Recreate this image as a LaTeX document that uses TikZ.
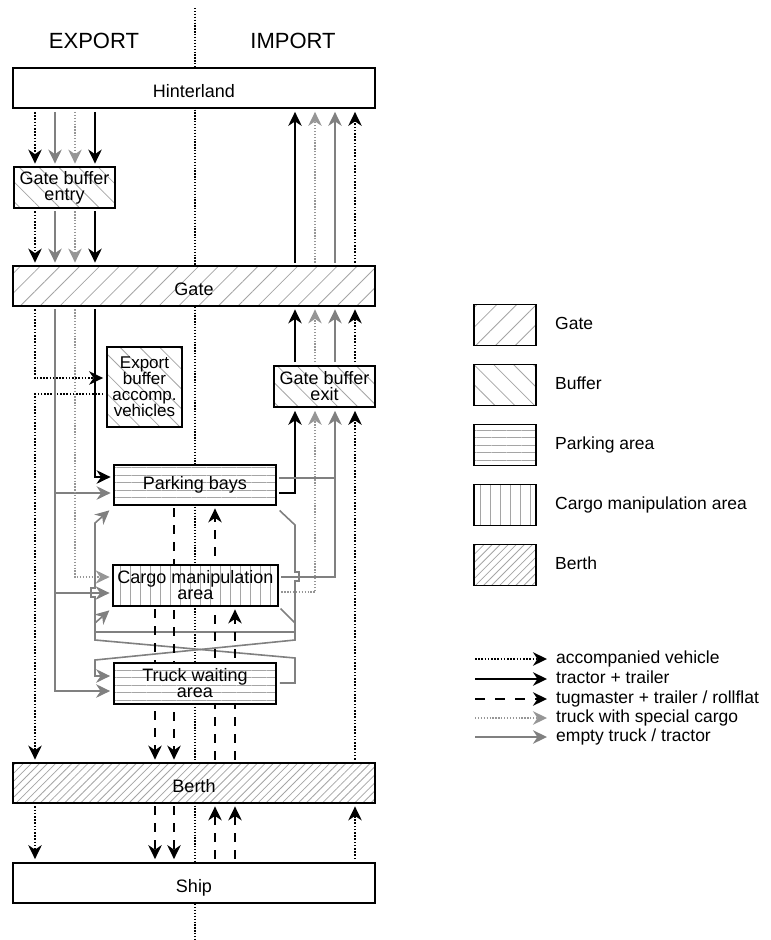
\documentclass[tikz,border=0pt]{standalone}
\usepackage{fontspec}
\setmainfont{Liberation Sans}
\usetikzlibrary{arrows.meta,patterns.meta,calc}
\definecolor{gr}{RGB}{128,128,128}
\definecolor{grd}{RGB}{150,150,150}
\definecolor{hatch}{RGB}{165,165,165}
\pgfdeclarelayer{bg}
\pgfsetlayers{bg,main}
\tikzset{
 tipk/.style={-{Stealth[length=14pt,width=13.5pt,inset=4.5pt]}},
 conn/.style={line width=1.6pt, shorten <=3pt, shorten >=3pt},
 blk/.style={conn, draw=black, tipk},
 blkdot/.style={blk, dash pattern=on 1.6pt off 1.6pt},
 gry/.style={conn, draw=gr, tipk},
 grydot/.style={conn, draw=grd, line width=1.3pt, tipk, dash pattern=on 1.3pt off 1.6pt},
 dsh/.style={blk, dash pattern=on 9pt off 8pt},
 box/.style={draw=black, line width=1.8pt, preaction={fill=white}, inner sep=0pt, align=center, font=\fontsize{18}{16}\selectfont},
 big/.style={box, minimum width=362pt, minimum height=40pt, text height=19pt, text depth=0pt},
 gatepat/.style={box, pattern={Lines[angle=45,distance=14pt,line width=0.8pt]}, pattern color=hatch},
 bufpat/.style={box, pattern={Lines[angle=-45,distance=14pt,line width=0.8pt]}, pattern color=hatch},
 parkpat/.style={box, pattern={Lines[angle=0,distance=7.5pt,line width=0.8pt]}, pattern color=hatch},
 cargopat/.style={box, pattern={Lines[angle=90,distance=10pt,line width=0.8pt]}, pattern color=hatch},
 berthpat/.style={box, pattern={Lines[angle=45,distance=5.7pt,line width=0.8pt]}, pattern color=hatch},
 legtxt/.style={anchor=west, inner sep=0pt, font=\fontsize{17.5}{20}\selectfont, text height=13pt, text depth=4pt},
 head/.style={font=\fontsize{22}{26}\selectfont, inner sep=0pt},
 legline/.style={shorten <=0pt, shorten >=0pt},
}
\begin{document}
\begin{tikzpicture}[x=1pt,y=-1pt]
\useasboundingbox (0,0) rectangle (771,940);

% headers
\node[head] (exp) at (94,41) {EXPORT};
\node[head] (imp) at (293,41) {IMPORT};
\coordinate (ctop) at (195,8);
\coordinate (cbot) at (195,940);

% boxes
\node[big] (hint) at (194,88) {Hinterland};
\node[bufpat, minimum width=101pt, minimum height=41pt] (gbe) at (64.5,187.5) {Gate buffer\\entry};
\node[big, gatepat] (gate) at (194,286) {Gate};
\node[bufpat, minimum width=75pt, minimum height=80pt, font=\fontsize{17}{16}\selectfont] (eb) at (144.5,387) {Export\\buffer\\accomp.\\vehicles};
\node[bufpat, minimum width=101pt, minimum height=41pt] (gbx) at (324.5,386.5) {Gate buffer\\exit};
\node[parkpat, minimum width=162pt, minimum height=40pt] (pb) at (195,485) {Parking bays};
\node[cargopat, minimum width=165pt, minimum height=41pt] (cma) at (195.5,585.5) {Cargo manipulation\\area};
\node[parkpat, minimum width=162pt, minimum height=41pt] (twa) at (195,683.5) {Truck waiting\\area};
\node[big, berthpat] (berth) at (194,783) {Berth};
\node[big] (ship) at (194,883) {Ship};

% legend
\node[gatepat, minimum width=62pt, minimum height=41pt] (lg1) at (505,325) {};
\node[bufpat, minimum width=62pt, minimum height=41pt] (lg2) at (505,385) {};
\node[parkpat, minimum width=62pt, minimum height=41pt] (lg3) at (505,445) {};
\node[cargopat, minimum width=62pt, minimum height=41pt] (lg4) at (505,505) {};
\node[berthpat, minimum width=62pt, minimum height=41pt] (lg5) at (505,565) {};
\node[legtxt] (lt1) at (555,325) {Gate};
\node[legtxt] (lt2) at (555,385) {Buffer};
\node[legtxt] (lt3) at (555,445) {Parking area};
\node[legtxt] (lt4) at (555,505) {Cargo manipulation area};
\node[legtxt] (lt5) at (555,565) {Berth};

\node[legtxt] (la1) at (556,659) {accompanied vehicle};
\node[legtxt] (la2) at (556,679) {tractor + trailer};
\node[legtxt] (la3) at (556,699) {tugmaster + trailer / rollflat};
\node[legtxt] (la4) at (556,718) {truck with special cargo};
\node[legtxt] (la5) at (556,737) {empty truck / tractor};

\begin{pgfonlayer}{bg}
% centre divider
\draw[line width=1.3pt, dash pattern=on 1.3pt off 1.6pt] (ctop) -- (cbot);

% legend lines
\draw[blkdot, legline] ([xshift=-81pt]la1.west) -- ([xshift=-9pt]la1.west);
\draw[blk, legline] ([xshift=-81pt]la2.west) -- ([xshift=-9pt]la2.west);
\draw[dsh, dash pattern=on 10pt off 10pt, legline] ([xshift=-81pt]la3.west) -- ([xshift=-9pt]la3.west);
\draw[grydot, legline] ([xshift=-81pt]la4.west) -- ([xshift=-9pt]la4.west);
\draw[gry, legline] ([xshift=-81pt]la5.west) -- ([xshift=-9pt]la5.west);

% Hinterland -> Gate buffer entry
\draw[blkdot] (hint.south -| 35,0) -- (gbe.north -| 35,0);
\draw[gry] (hint.south -| 55,0) -- (gbe.north -| 55,0);
\draw[grydot] (hint.south -| 75,0) -- (gbe.north -| 75,0);
\draw[blk] (hint.south -| 95,0) -- (gbe.north -| 95,0);
% Gate buffer entry -> Gate
\draw[blkdot] (gbe.south -| 35,0) -- (gate.north -| 35,0);
\draw[gry] (gbe.south -| 55,0) -- (gate.north -| 55,0);
\draw[grydot] (gbe.south -| 75,0) -- (gate.north -| 75,0);
\draw[blk] (gbe.south -| 95,0) -- (gate.north -| 95,0);
% Gate -> Hinterland
\draw[blk] (gate.north -| 295,0) -- (hint.south -| 295,0);
\draw[grydot] (gate.north -| 315,0) -- (hint.south -| 315,0);
\draw[gry] (gate.north -| 335,0) -- (hint.south -| 335,0);
\draw[blkdot] (gate.north -| 355,0) -- (hint.south -| 355,0);
% Gate buffer exit -> Gate
\draw[blk] (gbx.north -| 295,0) -- (gate.south -| 295,0);
\draw[grydot] (gbx.north -| 315,0) -- (gate.south -| 315,0);
\draw[gry] (gbx.north -| 335,0) -- (gate.south -| 335,0);
\draw[blkdot] (gbx.north -| 355,0) -- (gate.south -| 355,0);

% export side below gate
\draw[blkdot] (gate.south -| 35,0) -- (35,378) -- (eb.west |- 0,378);
\draw[blkdot] (eb.west |- 0,394) -- (35,394) -- (berth.north -| 35,0);
\draw[blk] (gate.south -| 95,0) -- (95,477) -- (pb.west |- 0,477);
\draw[gry] (gate.south -| 55,0) -- (55,691) -- (twa.west |- 0,691);
\draw[gry, shorten <=0pt] (55,493) -- (pb.west |- 0,493);
\draw[gry, shorten <=0pt] (55,593) -- (cma.west |- 0,593);
\draw[grydot] (gate.south -| 75,0) -- (75,577) -- (cma.west |- 0,577);

% empty truck loops
\draw[gry] (twa.east |- 0,683) -- (295,683) -- (295,658) -- (95,640) -- (95,597) -- (91,597) -- (91,588) -- (95,588) -- (95,523) -- ($(pb.south west)+(-2,3)$);
\draw[gry, shorten <=0pt] (95,623) -- ($(cma.south west)+(-1,2)$);
\draw[gry, -, shorten <=0pt, shorten >=0pt] (95,632) -- (295,632);
\draw[gry] ($(pb.south east)+(1,3)$) -- (295,525) -- (295,572) -- (299,572) -- (299,581) -- (295,581) -- (295,640) -- (95,660) -- (95,676) -- (twa.west |- 0,676);
\draw[gry, -, shorten >=0pt] (cma.south east) -- (295,623);

% import side into gate buffer exit
\draw[blk] (pb.east |- 0,493) -- (295,493) -- (gbx.south -| 295,0);
\draw[grydot] (cma.east |- 0,592) -- (315,592) -- (gbx.south -| 315,0);
\draw[gry] (cma.east |- 0,577) -- (335,577) -- (gbx.south -| 335,0);
\draw[gry, -, shorten >=0pt] (pb.east |- 0,478) -- (335,478);
\draw[blkdot] (berth.north -| 355,0) -- (gbx.south -| 355,0);

% tugmaster flows
\draw[dsh] (pb.south -| 174,0) -- (berth.north -| 174,0);
\draw[dsh] (cma.south -| 155,0) -- (berth.north -| 155,0);
\draw[dsh] (berth.north -| 215,0) -- (pb.south -| 215,0);
\draw[dsh] (berth.north -| 235,0) -- (cma.south -| 235,0);
% berth <-> ship
\draw[dsh] (berth.south -| 155,0) -- (ship.north -| 155,0);
\draw[dsh] (berth.south -| 174,0) -- (ship.north -| 174,0);
\draw[dsh] (ship.north -| 215,0) -- (berth.south -| 215,0);
\draw[dsh] (ship.north -| 235,0) -- (berth.south -| 235,0);
\draw[blkdot] (berth.south -| 35,0) -- (ship.north -| 35,0);
\draw[blkdot] (ship.north -| 355,0) -- (berth.south -| 355,0);
\end{pgfonlayer}
\end{tikzpicture}
\end{document}
